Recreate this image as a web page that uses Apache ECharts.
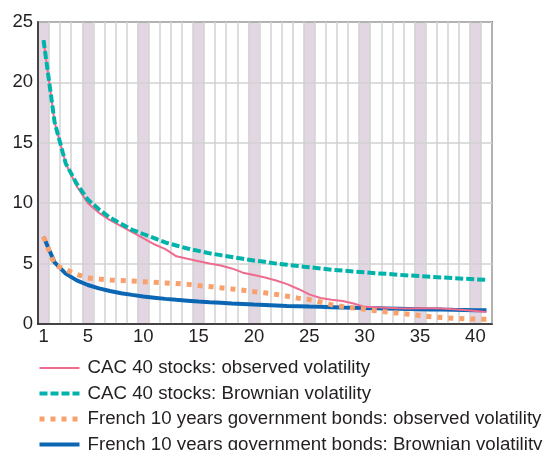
<!DOCTYPE html>
<html>
<head>
<meta charset="utf-8">
<script src="https://cdn.jsdelivr.net/npm/echarts@6/dist/echarts.min.js"></script>
<style>
html,body{margin:0;padding:0;background:#fff;}
#chart{width:544px;height:450px;}
</style>
</head>
<body>
<div id="chart"></div>
<script>
// Holding period (years)
var periods = [];
for (var i = 1; i <= 41; i++) periods.push(String(i));
var tickLabels = [1, 5, 10, 15, 20, 25, 30, 35, 40];
var yTicks = [0, 5, 10, 15, 20, 25];

var seriesNames = [
  'CAC 40 stocks: observed volatility',
  'CAC 40 stocks: Brownian volatility',
  'French 10 years government bonds: observed volatility',
  'French 10 years government bonds: Brownian volatility'
];

var cacObserved = [23.5, 16.7, 13.3, 11.4, 10.0, 9.2, 8.6, 8.1, 7.6, 7.1,
  6.6, 6.2, 5.6, 5.4, 5.2, 5.0, 4.85, 4.6, 4.25, 4.05,
  3.85, 3.6, 3.3, 2.9, 2.45, 2.15, 2.0, 1.9, 1.7, 1.42,
  1.38, 1.35, 1.3, 1.28, 1.3, 1.3, 1.28, 1.22, 1.15, 1.08, 1.0];

var cacBrownian = [23.5, 16.7, 13.3, 11.6, 10.3, 9.5, 8.8, 8.3, 7.8, 7.45,
  7.1, 6.75, 6.5, 6.25, 6.05, 5.85, 5.7, 5.55, 5.4, 5.25,
  5.15, 5.0, 4.9, 4.8, 4.7, 4.6, 4.5, 4.42, 4.35, 4.28,
  4.2, 4.15, 4.08, 4.02, 3.96, 3.9, 3.85, 3.8, 3.75, 3.7, 3.65];

var bondObserved = [7.22, 4.9, 4.5, 4.1, 3.8, 3.72, 3.65, 3.6, 3.55, 3.5,
  3.45, 3.4, 3.35, 3.28, 3.18, 3.1, 3.0, 2.9, 2.8, 2.68,
  2.58, 2.45, 2.3, 2.14, 2.02, 1.82, 1.6, 1.45, 1.32, 1.22,
  1.1, 1.0, 0.9, 0.8, 0.7, 0.6, 0.53, 0.48, 0.44, 0.41, 0.39];

var bondBrownian = [7.22, 5.1, 4.17, 3.61, 3.23, 2.95, 2.73, 2.55, 2.41, 2.28,
  2.18, 2.08, 2.0, 1.93, 1.86, 1.8, 1.75, 1.7, 1.66, 1.61,
  1.58, 1.54, 1.5, 1.47, 1.44, 1.42, 1.39, 1.36, 1.34, 1.32,
  1.3, 1.28, 1.26, 1.24, 1.22, 1.2, 1.19, 1.17, 1.16, 1.14, 1.13];

var colors = ['#ef6b8e', '#00b3aa', '#f9a16c', '#0b66b3'];
var widths = [2, 4, 5, 4];
var dashes = ['solid', [8, 3], [5, 6], 'solid'];
var textColor = '#231f20';
var font = 'Liberation Sans, Arial, Helvetica, sans-serif';

var yMax = yTicks[yTicks.length - 1];
var bandData = periods.map(function (p) {
  return tickLabels.indexOf(+p) >= 0 ? yMax : '-';
});

function lineSeries(k, data, z) {
  return {
    type: 'line', name: seriesNames[k], data: data, symbol: 'none',
    lineStyle: {color: colors[k], width: widths[k], type: dashes[k]},
    itemStyle: {color: colors[k]}, z: z
  };
}

var chart = echarts.init(document.getElementById('chart'), null, {renderer: 'canvas'});
chart.setOption({
  animation: false,
  grid: {
    left: 38, right: 52, top: 22, bottom: 126,
    show: true, borderColor: '#231f20', borderWidth: 1.5,
    backgroundColor: 'transparent'
  },
  legend: {
    data: seriesNames.map(function (n, k) {
      return {name: n, lineStyle: {color: colors[k], width: widths[k], type: dashes[k]}, itemStyle: {opacity: 0}};
    }),
    orient: 'vertical',
    left: 37, top: 358, height: 200,
    itemWidth: 40, itemHeight: 14, itemGap: 5.5,
    padding: 0,
    itemStyle: {opacity: 0},
    textStyle: {fontSize: 18.7, color: textColor, fontFamily: font, lineHeight: 20, padding: [0, 0, 0, 3]}
  },
  xAxis: {
    type: 'category',
    data: periods,
    boundaryGap: true,
    axisLine: {show: true, lineStyle: {color: '#231f20', width: 1.5}},
    axisTick: {show: false, interval: 0},
    axisLabel: {
      interval: function (idx, val) { return tickLabels.indexOf(+val) >= 0; },
      fontSize: 18.5, color: textColor, fontFamily: font, margin: 3
    },
    splitLine: {show: true, interval: 0, lineStyle: {color: '#d2d2d2', width: 1.5}}
  },
  yAxis: {
    type: 'value',
    min: yTicks[0], max: yMax, interval: 5,
    axisLine: {show: true, lineStyle: {color: '#231f20', width: 1.5}},
    axisTick: {show: false},
    axisLabel: {fontSize: 18.5, color: textColor, fontFamily: font, margin: 5},
    splitLine: {show: true, lineStyle: {color: '#d2d2d2', width: 1.5}}
  },
  series: [
    {
      type: 'bar', name: 'bands', data: bandData, barCategoryGap: '0%',
      itemStyle: {color: '#e3d6e3'}, silent: true, z: -1
    },
    lineSeries(3, bondBrownian, 2),
    lineSeries(0, cacObserved, 3),
    lineSeries(2, bondObserved, 4),
    lineSeries(1, cacBrownian, 5)
  ]
});
</script>
</body>
</html>
